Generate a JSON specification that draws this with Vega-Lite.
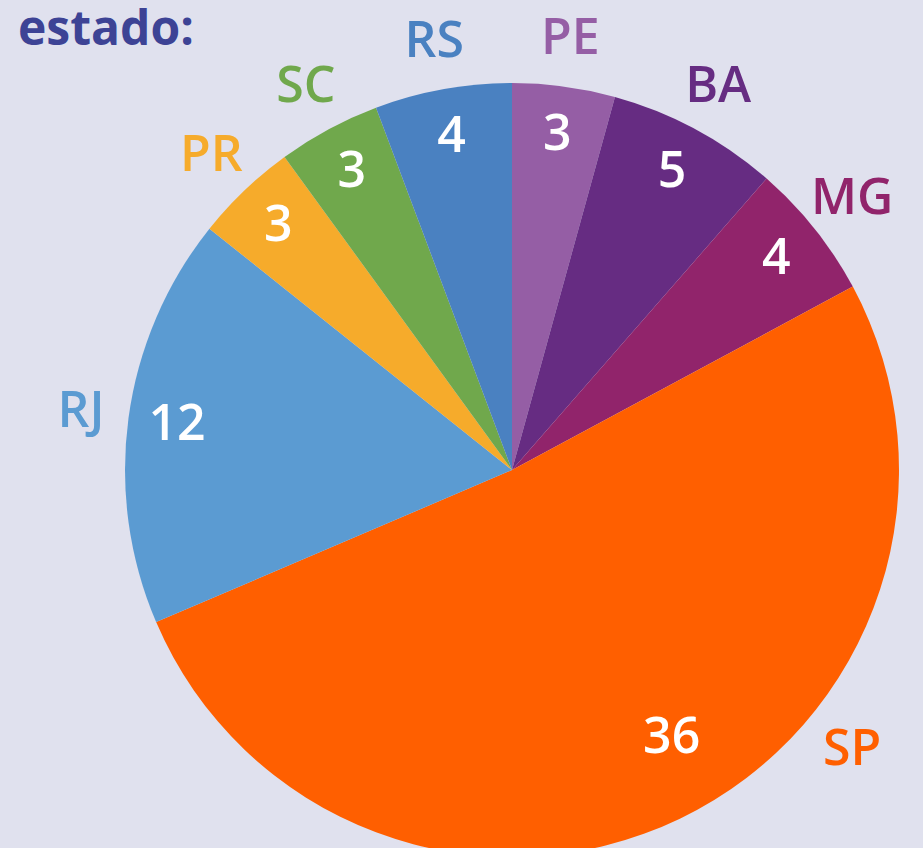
{
  "$schema": "https://vega.github.io/schema/vega-lite/v6.json",
  "width": 822,
  "height": 756,
  "autosize": {"type": "none"},
  "padding": {"left": 101, "top": 92, "right": 0, "bottom": 0},
  "background": "#e0e1ee",
  "config": {"view": {"stroke": null}, "font": "Open Sans"},
  "title": {
    "text": "estado:",
    "anchor": "start",
    "frame": "group",
    "dx": -83,
    "offset": -210,
    "baseline": "alphabetic",
    "fontSize": 48,
    "fontWeight": "bold",
    "font": "Open Sans",
    "color": "#3d4395"
  },
  "data": {
    "values": [
      {"estado": "PE", "n": 3, "ordem": 1},
      {"estado": "BA", "n": 5, "ordem": 2},
      {"estado": "MG", "n": 4, "ordem": 3},
      {"estado": "SP", "n": 36, "ordem": 4},
      {"estado": "RJ", "n": 12, "ordem": 5},
      {"estado": "PR", "n": 3, "ordem": 6},
      {"estado": "SC", "n": 3, "ordem": 7},
      {"estado": "RS", "n": 4, "ordem": 8}
    ]
  },
  "encoding": {
    "theta": {"field": "n", "type": "quantitative", "stack": true},
    "order": {"field": "ordem", "type": "quantitative"},
    "color": {
      "field": "estado",
      "type": "nominal",
      "legend": null,
      "scale": {
        "domain": ["PE", "BA", "MG", "SP", "RJ", "PR", "SC", "RS"],
        "range": ["#955ea5", "#662c82", "#91246b", "#ff5f00", "#5b9bd2", "#f6ab2b", "#70a84c", "#4a81c1"]
      }
    }
  },
  "layer": [
    {"mark": {"type": "arc", "outerRadius": 387, "innerRadius": 0}},
    {
      "mark": {"type": "text", "radius": 435, "fontSize": 50, "fontWeight": 600, "align": "center", "baseline": "middle"},
      "encoding": {
        "text": {"condition": {"test": "datum.estado !== 'SP'", "field": "estado"}, "value": ""}
      }
    },
    {
      "mark": {"type": "text", "radius": 445, "dx": 147, "dy": -121, "fontSize": 50, "fontWeight": 600, "align": "center", "baseline": "middle"},
      "encoding": {
        "text": {"condition": {"test": "datum.estado === 'SP'", "field": "estado"}, "value": ""}
      }
    },
    {
      "mark": {"type": "text", "radius": 338, "fontSize": 50, "fontWeight": 600, "align": "center", "baseline": "middle", "fill": "white"},
      "encoding": {
        "color": {"value": "white"},
        "text": {"condition": {"test": "datum.estado !== 'SP'", "field": "n", "type": "quantitative"}, "value": ""}
      }
    },
    {
      "mark": {"type": "text", "radius": 338, "dx": 13, "dy": -37, "fontSize": 50, "fontWeight": 600, "align": "center", "baseline": "middle", "fill": "white"},
      "encoding": {
        "color": {"value": "white"},
        "text": {"condition": {"test": "datum.estado === 'SP'", "field": "n", "type": "quantitative"}, "value": ""}
      }
    }
  ]
}
